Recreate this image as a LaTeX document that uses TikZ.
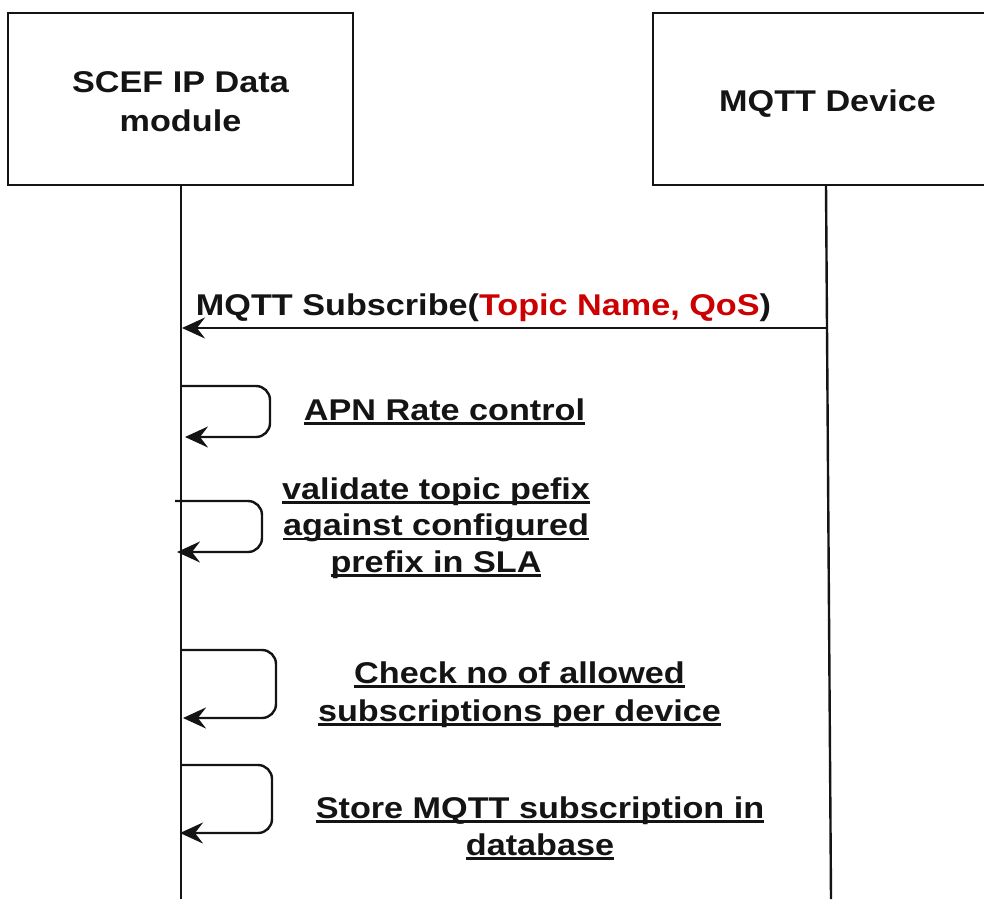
\documentclass[tikz,border=0pt]{standalone}
\usepackage{fontspec}
\setmainfont{Liberation Sans}[FakeStretch=1.14]
\usetikzlibrary{arrows.meta}
\definecolor{qred}{HTML}{CC0000}
\definecolor{ink}{HTML}{141414}
\newbox\ulbox
\newcommand\ulx[1]{\setbox\ulbox\hbox{#1}\rlap{\smash{\rule[-4.8pt]{\wd\ulbox}{2.6pt}}}\box\ulbox}
\begin{document}
\begin{tikzpicture}[x=1pt,y=-1pt,line width=2.4pt,draw=ink,
  tip/.style={-{Stealth[length=23pt,width=21pt,inset=8pt]}},
  actor/.style={draw,rectangle,minimum height=172pt,inner sep=0pt},
  lbl/.style={font=\bfseries\fontsize{30}{37}\selectfont,align=center,anchor=base,inner sep=0pt,text=ink},
  selfloop/.style={tip,rounded corners=14pt}]
\useasboundingbox (0,0) rectangle (984,899);
\clip (0,0) rectangle (984,899);
% actors
\node[actor,minimum width=345pt] (scef) at (180.5,99) {};
\node[actor,minimum width=349pt] (dev) at (827.5,99) {};
\node[lbl,font=\bfseries\fontsize{30}{39}\selectfont] (scefT) at (180.5,131) {SCEF IP Data\\module};
\node[lbl] (devT) at (827.5,111) {MQTT Device};
% lifelines
\coordinate (scefEnd) at (181,899);
\coordinate (devTop) at (826,185);
\coordinate (devEnd) at (831,899);
\draw (scef.south -| scefEnd) -- (scefEnd);
\draw (devTop) -- (devEnd);
% message
\coordinate (m0) at (826,328);
\coordinate (m1) at (182,328);
\draw[tip] (m0) -- (m1);
\node[lbl] (msg) at (483.5,315) {MQTT Subscribe(\textcolor{qred}{Topic Name, QoS})};
% self loops
\coordinate (a1) at (182,386);
\coordinate (b1) at (185,437);
\draw[selfloop] (a1) -- (270,386) -- (270,437) -- (b1);
\node[lbl] (l1) at (444.5,420) {\ulx{APN Rate control}};
\coordinate (a2) at (175,501);
\coordinate (b2) at (177,552);
\draw[selfloop] (a2) -- (262,501) -- (262,552) -- (b2);
\node[lbl,font=\bfseries\fontsize{30}{36.5}\selectfont] (l2) at (436,572) {\ulx{validate topic pefix}\\\ulx{against configured}\\\ulx{prefix in SLA}};
\coordinate (a3) at (181,650);
\coordinate (b3) at (183,718);
\draw[selfloop] (a3) -- (276,650) -- (276,718) -- (b3);
\node[lbl,font=\bfseries\fontsize{30}{38}\selectfont] (l3) at (519.5,721) {\ulx{Check no of allowed}\\\ulx{subscriptions per device}};
\coordinate (a4) at (181,765);
\coordinate (b4) at (180,833);
\draw[selfloop] (a4) -- (272,765) -- (272,833) -- (b4);
\node[lbl] (l4) at (540,855) {\ulx{Store MQTT subscription in}\\\ulx{database}};
\end{tikzpicture}
\end{document}
